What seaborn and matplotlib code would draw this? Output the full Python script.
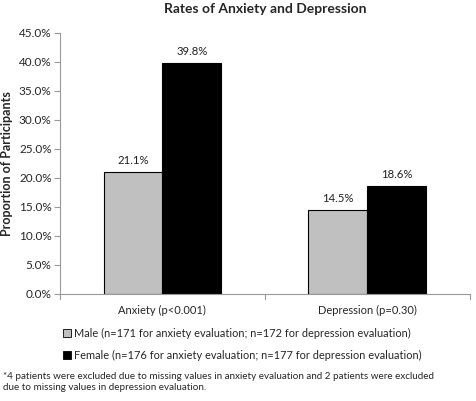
import matplotlib
matplotlib.use("Agg")
import matplotlib.pyplot as plt
import seaborn as sns
import pandas as pd

# data
categories = ["Anxiety (p<0.001)", "Depression (p=0.30)"]
groups = ["Male (n=171 for anxiety evaluation; n=172 for depression evaluation)",
          "Female (n=176 for anxiety evaluation; n=177 for depression evaluation)"]
male = [21.1, 14.5]
female = [39.8, 18.6]
yticks = [0, 5, 10, 15, 20, 25, 30, 35, 40, 45]

df = pd.DataFrame({
    "cat": categories * 2,
    "group": [groups[0]] * 2 + [groups[1]] * 2,
    "val": male + female,
})

sns.set_style("white")
plt.rcParams["font.family"] = ["Lato", "DejaVu Sans"]

fig = plt.figure(figsize=(4.76, 4.01), dpi=100)
ax = fig.add_axes([0.126, 0.267, 0.861, 0.651])

sns.barplot(data=df, x="cat", y="val", hue="group", ax=ax,
            palette=["#c0c0c0", "#000000"], edgecolor="black", linewidth=0.8,
            width=0.575, legend=False)

for cont in ax.containers:
    ax.bar_label(cont, labels=[f"{v:.1f}%" for v in cont.datavalues],
                 padding=4, fontsize=8.2, color="#222222")

ax.set_ylim(0, 45)
ax.set_yticks(yticks)
ax.set_yticklabels([f"{t:.1f}%" for t in yticks], fontsize=8.5)
ax.set_xlim(-0.5, 1.5)
ax.tick_params(axis="x", length=0, labelsize=8.0, pad=8)
ax.tick_params(axis="y", length=4, direction="out", color="#999999", pad=2)
ax.yaxis.set_ticks_position("left")
# category separator ticks on the x axis
for xb in [-0.5, 0.5, 1.5]:
    ax.plot([xb, xb], [0, -0.8], color="#999999", lw=0.8, clip_on=False)
ax.set_xlabel("")
ax.set_ylabel("Proportion of Participants", fontsize=9, fontweight="bold")
for s in ["top", "right"]:
    ax.spines[s].set_visible(False)
for s in ["left", "bottom"]:
    ax.spines[s].set_color("#999999")
    ax.spines[s].set_linewidth(0.8)

fig.text(0.557, 0.978, "Rates of Anxiety and Depression", ha="center", va="center",
         fontsize=10, fontweight="bold")

# legend rows
handles = [plt.Rectangle((0, 0), 1, 1, fc=c, ec="black", lw=0.6) for c in ["#c0c0c0", "#000000"]]
leg = fig.legend(handles, groups, loc="center", bbox_to_anchor=(0.51, 0.142),
                 frameon=False, fontsize=7.9, handlelength=0.7, handleheight=0.7,
                 handletextpad=0.3, labelspacing=1.0)

fig.text(0.006, 0.047,
         "*4 patients were excluded due to missing values in anxiety evaluation and 2 patients were excluded\n"
         "due to missing values in depression evaluation.",
         ha="left", va="center", fontsize=7.1, linespacing=1.3)

fig.savefig("out.png", dpi=100)
